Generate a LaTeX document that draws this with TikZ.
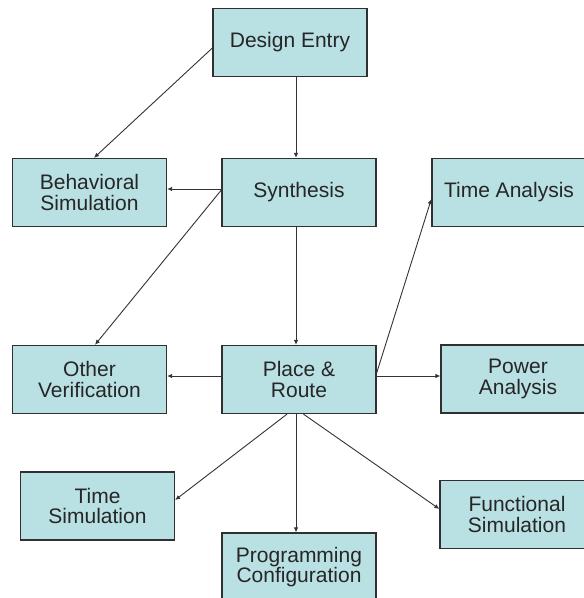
\documentclass[tikz,border=0pt]{standalone}
\usepackage{fontspec}
\setmainfont{Liberation Sans}
\usetikzlibrary{arrows.meta}
\definecolor{boxfill}{RGB}{185,224,227}
\definecolor{boxline}{RGB}{48,48,48}
\begin{document}
\begin{tikzpicture}[x=1pt,y=-1pt,
  stage/.style={draw=boxline,line width=1.3pt,fill=boxfill,minimum width=154pt,
    minimum height=68pt,align=center,inner sep=0pt,text=black!85,
    font=\fontsize{21}{20.5}\selectfont},
  flow/.style={draw=black!80,line width=0.9pt,-{Latex[length=5pt,width=4.5pt]}}]
\useasboundingbox[fill=white] (0,0) rectangle (584,598);
\clip (0,0) rectangle (584,598);
% stages, placed at their centres
\node[stage] (design) at (290,42.5) {Design Entry};
\node[stage] (behav)  at (89.5,192.5) {Behavioral\\Simulation};
\node[stage] (synth)  at (299,192.5) {Synthesis};
\node[stage] (tana)   at (509,192.5) {Time Analysis};
\node[stage] (other)  at (89.5,379.5) {Other\\Verification};
\node[stage] (place)  at (299,379.5) {Place \&\\Route};
\node[stage] (power)  at (518,379) {Power\\Analysis};
\node[stage] (tsim)   at (97.5,506) {Time\\Simulation};
\node[stage] (prog)   at (299,567) {Programming\\Configuration};
\node[stage] (func)   at (517,514.5) {Functional\\Simulation};
% connectors
\draw[flow] ([xshift=6pt]design.south) -- ([xshift=-3pt]synth.north);
\draw[flow] ([yshift=-5.5pt]design.west) -- ([xshift=4.5pt]behav.north);
\draw[flow] ([yshift=3.5pt]synth.west) -- ([yshift=3.5pt]behav.east);
\draw[flow] ([yshift=2.5pt]synth.west) -- ([xshift=5.5pt]other.north);
\draw[flow] ([xshift=-3pt]synth.south) -- ([xshift=-3pt]place.north);
\draw[flow] ([yshift=3.5pt]place.west) -- ([yshift=3.5pt]other.east);
\draw[flow] ([yshift=3.5pt]place.east) -- ([yshift=3pt]power.west);
\draw[flow] ([yshift=6.5pt]place.east) -- ([yshift=-6.5pt]tana.west);
\draw[flow] ([xshift=-12pt]place.south) -- ([yshift=6pt]tsim.east);
\draw[flow] ([xshift=-3pt]place.south) -- ([xshift=-3pt]prog.north);
\draw[flow] ([xshift=4.5pt]place.south) -- ([yshift=5.5pt]func.west);
\end{tikzpicture}
\end{document}
